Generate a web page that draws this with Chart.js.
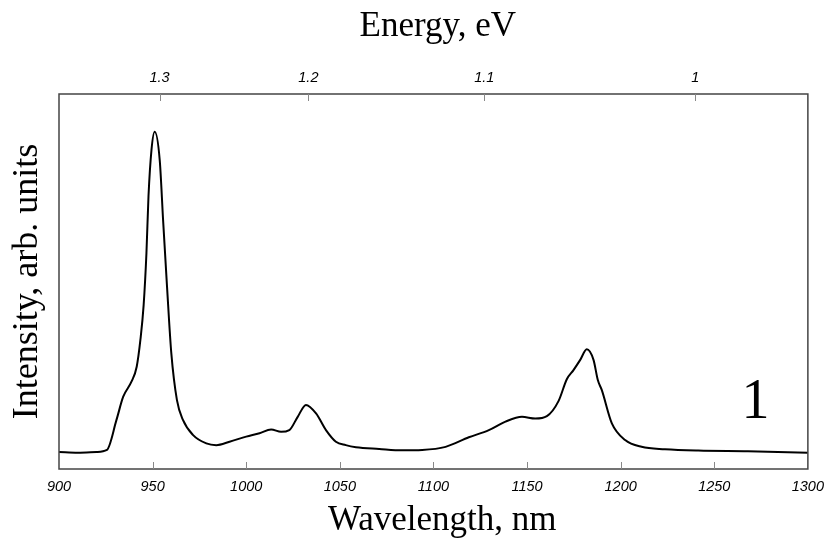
<!DOCTYPE html>
<html>
<head>
<meta charset="utf-8">
<script src="https://cdn.jsdelivr.net/npm/chart.js@4"></script>
<style>
  html, body { margin: 0; padding: 0; background: #fff; }
  canvas { display: block; }
</style>
</head>
<body>
<canvas id="chart" width="833" height="540"></canvas>
<script>
// spectrum
const wavelength = [900, 910, 920, 925.6, 930.7, 934.3, 938.7, 941.5, 943.5, 945.2, 946.7, 947.8, 949.4, 951.1,
  953.8, 955.6, 957.7, 960, 963, 966.2, 971.5, 978.7, 984, 991.1, 1000, 1007.1, 1013.3, 1018.6, 1023,
  1027.5, 1031.9, 1037.3, 1042.6, 1047.9, 1053.2, 1058.6, 1071, 1083.4, 1094, 1106.5, 1118.9, 1129.6,
  1138.5, 1147.3, 1154.4, 1160.6, 1166.8, 1171.3, 1174.8, 1178.4, 1181.9, 1185.5, 1187.8, 1189.9,
  1195.3, 1202.4, 1211.2, 1223.7, 1241.4, 1268, 1300];
const intensity = [0.050, 0.048, 0.050, 0.056, 0.144, 0.212, 0.256, 0.300, 0.380, 0.480, 0.633, 0.800, 0.936, 0.989,
  0.906, 0.730, 0.535, 0.339, 0.202, 0.144, 0.100, 0.075, 0.070, 0.080, 0.095, 0.105, 0.116, 0.109, 0.114,
  0.153, 0.188, 0.163, 0.114, 0.080, 0.070, 0.064, 0.059, 0.055, 0.056, 0.065, 0.093, 0.114,
  0.139, 0.153, 0.148, 0.155, 0.199, 0.264, 0.290, 0.320, 0.351, 0.320, 0.261, 0.232,
  0.134, 0.085, 0.065, 0.058, 0.054, 0.052, 0.048];

const energyTicks = [1.3, 1.2, 1.1, 1.0];
const energyLabels = ["1.3", "1.2", "1.1", "1"];
const curveLabel = "1";

const tickFont = { family: "'Liberation Sans', Arial, sans-serif", size: 14.5, style: "italic" };
const titleFont = { family: "'Liberation Serif', 'Times New Roman', serif", size: 35, lineHeight: 1 };

// box round the plot and ticks pointing inward
const framePlugin = {
  id: "frame",
  afterDraw(chart) {
    const { ctx, chartArea: a, scales } = chart;
    ctx.save();
    ctx.strokeStyle = "#444";
    ctx.lineWidth = 1.5;
    ctx.strokeRect(a.left, a.top, a.right - a.left, a.bottom - a.top);
    ctx.lineWidth = 1;
    ctx.strokeStyle = "#888";
    ctx.beginPath();
    for (const t of scales.x.ticks) {
      const px = Math.round(scales.x.getPixelForValue(t.value)) + 0.5;
      if (px <= a.left + 1 || px >= a.right - 1) continue;
      ctx.moveTo(px, a.bottom);
      ctx.lineTo(px, a.bottom - 7);
    }
    for (const t of scales.xTop.ticks) {
      const px = Math.round(scales.xTop.getPixelForValue(t.value)) + 0.5;
      ctx.moveTo(px, a.top);
      ctx.lineTo(px, a.top + 7);
    }
    ctx.stroke();
    // curve number
    ctx.fillStyle = "#000";
    ctx.font = "56px 'Liberation Serif', 'Times New Roman', serif";
    ctx.textAlign = "center";
    ctx.textBaseline = "alphabetic";
    ctx.fillText(curveLabel, scales.x.getPixelForValue(1272), scales.y.getPixelForValue(0.15));
    ctx.restore();
  }
};

new Chart(document.getElementById("chart"), {
  type: "line",
  data: {
    datasets: [{
      data: wavelength.map((w, i) => ({ x: w, y: intensity[i] })),
      borderColor: "#000",
      borderWidth: 2,
      pointRadius: 0,
      cubicInterpolationMode: "monotone",
      fill: false
    }]
  },
  options: {
    responsive: false,
    animation: false,
    layout: { padding: { left: 0, right: 23, top: 0, bottom: 0 } },
    plugins: { legend: { display: false }, tooltip: { enabled: false } },
    scales: {
      x: {
        type: "linear",
        position: "bottom",
        min: 900,
        max: 1300,
        grid: { display: false, drawTicks: false },
        border: { display: false },
        ticks: {
          stepSize: 50, color: "#000", font: tickFont, padding: 9, maxRotation: 0, autoSkip: false,
          callback: v => String(v)
        },
        title: { display: true, text: "\u00a0\u00a0Wavelength, nm", color: "#000", font: titleFont, padding: { top: 0, bottom: 2 } },
        afterFit(scale) { scale.height = 71; }
      },
      xTop: {
        type: "linear",
        position: "top",
        min: 900,
        max: 1300,
        grid: { display: false, drawTicks: false },
        border: { display: false },
        afterBuildTicks(scale) {
          scale.ticks = energyTicks.map(e => ({ value: 1239.84 / e }));
        },
        ticks: {
          color: "#000", font: tickFont, padding: 7, maxRotation: 0, autoSkip: false,
          callback: (v, i) => energyLabels[i]
        },
        title: { display: true, text: "\u00a0Energy, eV", color: "#000", font: titleFont, padding: { top: 9, bottom: 0 } },
        afterFit(scale) { scale.height = 94; }
      },
      y: {
        min: 0,
        max: 1.1,
        grid: { display: false, drawTicks: false },
        border: { display: false },
        ticks: { display: false },
        title: { display: true, text: "Intensity, arb. units", color: "#000", font: { family: titleFont.family, size: 36, lineHeight: 1 }, padding: { top: 10, bottom: 0 } },
        afterFit(scale) { scale.width = 59; }
      }
    }
  },
  plugins: [framePlugin]
});
</script>
</body>
</html>
